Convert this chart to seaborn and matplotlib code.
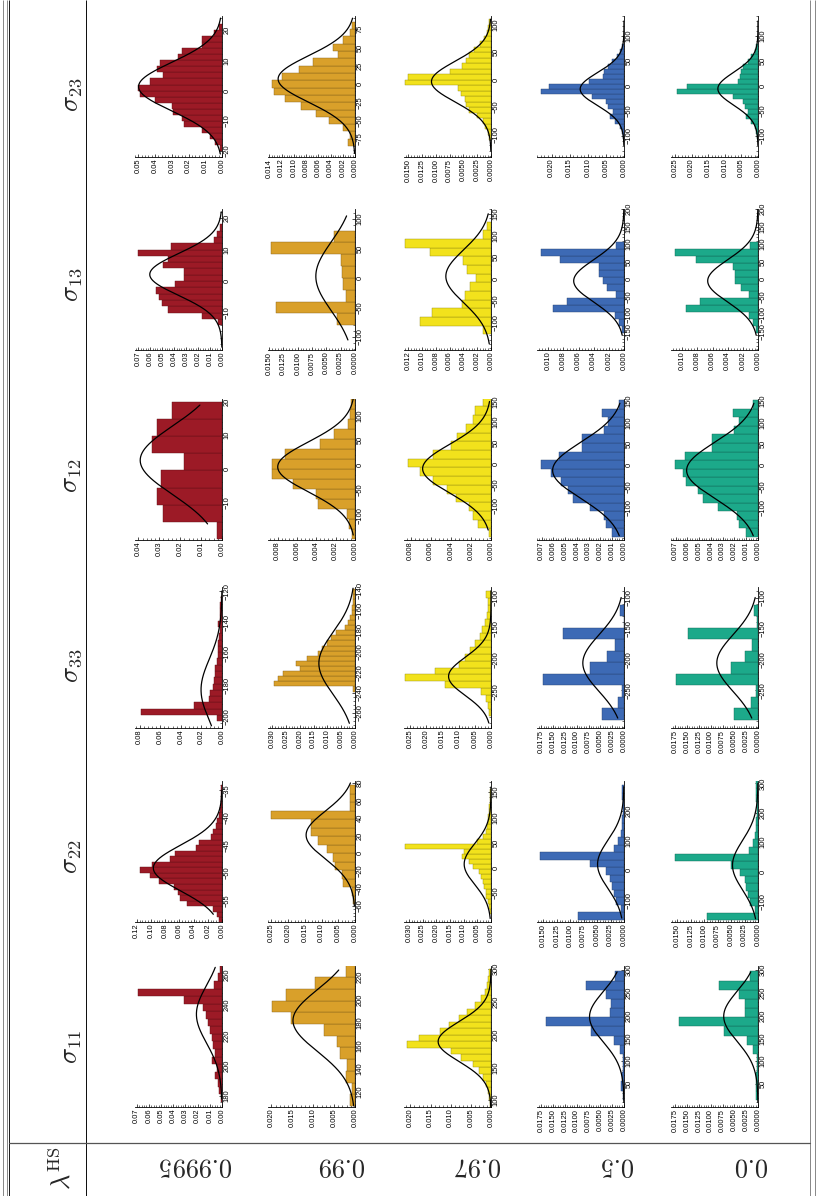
import numpy as np
import pandas as pd
import matplotlib
matplotlib.use("Agg")
import matplotlib.pyplot as plt
import matplotlib.colors as mcolors
from matplotlib.ticker import AutoMinorLocator, FuncFormatter
import seaborn as sns

sns.set_theme(style="white")
plt.rcParams['font.family'] = ['Liberation Sans', 'DejaVu Sans']
plt.rcParams['mathtext.fontset'] = 'cm'

# ---------------------------------------------------------------- labels
LAMBDAS = ["0.9995", "0.99", "0.97", "0.5", "0.0"]
SIGMAS = ["11", "22", "33", "12", "13", "23"]
COLORS = ["#9C1A26", "#D9A02A", "#F2E21C", "#3D6AB5", "#1CA98A"]

# ---------------------------------------------------------------- data
# each histogram: (first bin edge, bin width), bar densities, normal fit (mu, sd, lo, hi)
bins_0_11 = (176, 5)
dens_0_11 = [0.0011, 0.0022, 0.0033, 0.0055, 0.0045, 0.0082, 0.0060, 0.0074, 0.0082,
             0.0095, 0.0114, 0.0128, 0.0155, 0.031, 0.069, 0.0065, 0.0033, 0.0020]
fit_0_11 = (234, 19, 178, 265)

bins_0_22 = (-59, 1)
dens_0_22 = [0.004, 0.007, 0.012, 0.049, 0.059, 0.062, 0.068, 0.089, 0.101, 0.116,
             0.099, 0.073, 0.066, 0.036, 0.033, 0.016, 0.012, 0.009, 0.007, 0.004,
             0.003, 0.002, 0.001, 0.002, 0.001]
fit_0_22 = (-49.1, 4.13, -57.5, -35)

bins_0_33 = (-203, 4)
dens_0_33 = [0.005, 0.079, 0.027, 0.013, 0.012, 0.009, 0.008, 0.007, 0.007, 0.005,
             0.004, 0.004, 0.004, 0.003, 0.002, 0.004, 0.002, 0.002, 0.002, 0.001]
fit_0_33 = (-183, 19.6, -206, -120)

bins_0_12 = (-21, 5.125)
dens_0_12 = [0.0024, 0.028, 0.031, 0.029, 0.018, 0.0336, 0.031, 0.024]
fit_0_12 = (2.5, 10.2, -16.5, 19)

bins_0_13 = (-14, 2)
dens_0_13 = [0.003, 0.017, 0.045, 0.050, 0.053, 0.055, 0.039, 0.032, 0.032, 0.049,
             0.045, 0.070, 0.043, 0.007, 0.004, 0.002]
fit_0_13 = (2.1, 6.6, -21, 22)

bins_0_23 = (-20, 2)
dens_0_23 = [0.001, 0.004, 0.007, 0.012, 0.0225, 0.024, 0.029, 0.030, 0.040, 0.049,
             0.050, 0.043, 0.035, 0.039, 0.037, 0.026, 0.024, 0.012, 0.012, 0.005, 0.002]
fit_0_23 = (1.3, 8.0, -21, 24)

bins_1_11 = (107.6, 10.2)
dens_1_11 = [0.0012, 0.0008, 0.0021, 0.0018, 0.0035, 0.0044, 0.0073, 0.0154, 0.0198,
             0.0165, 0.0096, 0.0021]
fit_1_11 = (182, 26.9, 108, 226)

bins_1_22 = (-58.5, 9.7)
dens_1_22 = [0.0005, 0.0010, 0.0036, 0.0039, 0.0060, 0.0066, 0.0083, 0.0112, 0.0132,
             0.0132, 0.0250, 0.0016, 0.0016, 0.0016]
fit_1_22 = (20.6, 27.3, -60, 80)

bins_1_33 = (-239, 5)
dens_1_33 = [0.0006, 0.0296, 0.028, 0.026, 0.020, 0.0215, 0.0175, 0.0135, 0.012, 0.010,
             0.0088, 0.007, 0.0037, 0.0025, 0.0019, 0.0012, 0.0012, 0.0009, 0.0009, 0.0009]
fit_1_33 = (-211.4, 30.4, -270, -138)

bins_1_12 = (-147, 20)
dens_1_12 = [0.0003, 0.0006, 0.0008, 0.0038, 0.0040, 0.0064, 0.0086, 0.0086, 0.0072,
             0.0036, 0.0022, 0.0007, 0.0005, 0.0004]
fit_1_12 = (-3.3, 49.9, -140, 133)

bins_1_13 = (-80, 20)
dens_1_13 = [0.0032, 0.0138, 0.0016, 0.0021, 0.0023, 0.0025, 0.0147, 0.0036]
fit_1_13 = (2.8, 58.3, -105, 105)

bins_1_23 = (-85, 10)
dens_1_23 = [0.0012, 0.0008, 0.0020, 0.0042, 0.0064, 0.0089, 0.0114, 0.0133, 0.0136,
             0.0119, 0.0091, 0.0069, 0.0028, 0.0036, 0.0019, 0.0009, 0.0005]
fit_1_23 = (6.8, 31.7, -95, 90)

bins_2_11 = (90, 10)
dens_2_11 = [0.0003, 0.0005, 0.0008, 0.0012, 0.0020, 0.0030, 0.0045, 0.0075, 0.0100,
             0.0209, 0.0179, 0.0127, 0.0105, 0.0080, 0.0060, 0.0040, 0.0025, 0.0015,
             0.0010, 0.0008, 0.0005]
fit_2_11 = (189.5, 30.4, 90, 300)

bins_2_22 = (-93, 10)
dens_2_22 = [0.0003, 0.0008, 0.0012, 0.0018, 0.0020, 0.0025, 0.0030, 0.0035, 0.0045,
             0.0065, 0.0080, 0.0106, 0.0100, 0.0313, 0.0050, 0.0030, 0.0020, 0.0015,
             0.0012, 0.0010, 0.0008, 0.0006, 0.0005, 0.0003, 0.0002]
fit_2_22 = (7, 40.7, -100, 160)

bins_2_33 = (-289, 11)
dens_2_33 = [0.0005, 0.0010, 0.0015, 0.0030, 0.0142, 0.0266, 0.0174, 0.0099, 0.0080,
             0.0065, 0.0050, 0.0035, 0.0028, 0.0020, 0.0012, 0.0010, 0.0008, 0.0015]
fit_2_33 = (-226, 30.4, -300, -90)

bins_2_12 = (-177, 21)
dens_2_12 = [0.0002, 0.0013, 0.0018, 0.0022, 0.0035, 0.0044, 0.0058, 0.0071, 0.0083,
             0.0058, 0.0040, 0.0034, 0.0025, 0.0018, 0.0016, 0.0008]
fit_2_12 = (-12, 58.6, -160, 150)

bins_2_13 = (-128, 20)
dens_2_13 = [0.0012, 0.0103, 0.0085, 0.0042, 0.0037, 0.0030, 0.0022, 0.0035, 0.0040,
             0.0088, 0.0125, 0.0012, 0.0006]
fit_2_13 = (6, 61, -150, 150)

bins_2_23 = (-110, 10)
dens_2_23 = [0.0003, 0.0005, 0.0010, 0.0015, 0.0025, 0.0040, 0.0045, 0.0048, 0.0055,
             0.0060, 0.0157, 0.0150, 0.0075, 0.0052, 0.0045, 0.0040, 0.0030, 0.0020,
             0.0012, 0.0008, 0.0005, 0.0003]
fit_2_23 = (-3.6, 36.9, -130, 110)

bins_3_11 = (16, 20)
dens_3_11 = [0.0003, 0.0006, 0.0004, 0.0002, 0.0003, 0.0009, 0.0022, 0.0070, 0.0166,
             0.0030, 0.0028, 0.0039, 0.0080, 0.0018]
fit_3_11 = (197, 54.7, 10, 295)

bins_3_22 = (-165, 25)
dens_3_22 = [0.0086, 0.0006, 0.0015, 0.0019, 0.0022, 0.0026, 0.0034, 0.0063, 0.0157,
             0.0018, 0.0011, 0.0005, 0.0004, 0.0003, 0.0002, 0.0002, 0.0004, 0.0003]
fit_3_22 = (20, 81, -160, 280)

bins_3_33 = (-297.6, 18.6)
dens_3_33 = [0.0046, 0.0013, 0.0004, 0.0172, 0.0071, 0.0035, 0.0020, 0.0128, 0.0001, 0.0008]
fit_3_33 = (-206, 45.8, -295, -100)

bins_3_12 = (-168, 20)
dens_3_12 = [0.0010, 0.0015, 0.0017, 0.0029, 0.0043, 0.0048, 0.0054, 0.0062, 0.0071,
             0.0055, 0.0036, 0.0036, 0.0017, 0.0014, 0.0019, 0.0004]
fit_3_12 = (-12, 65.7, -165, 145)

bins_3_13 = (-154, 20)
dens_3_13 = [0.0003, 0.0006, 0.0012, 0.0094, 0.0076, 0.0011, 0.0022, 0.0028, 0.0033,
             0.0033, 0.0085, 0.0110, 0.0010]
fit_3_13 = (-5, 60, -160, 200)

bins_3_23 = (-107, 10)
dens_3_23 = [0.0003, 0.0005, 0.0012, 0.0026, 0.0040, 0.0030, 0.0045, 0.0050, 0.0088,
             0.0229, 0.0206, 0.0097, 0.0057, 0.0055, 0.0045, 0.0033, 0.0020, 0.0012, 0.0006]
fit_3_23 = (-6.7, 33, -120, 130)

bins_4_11 = (16, 20)
dens_4_11 = [0.0004, 0.0005, 0.0004, 0.0002, 0.0003, 0.0010, 0.0024, 0.0072, 0.0168,
             0.0028, 0.0027, 0.0040, 0.0082, 0.0016]
fit_4_11 = (198, 55, 10, 295)

bins_4_22 = (-165, 25)
dens_4_22 = [0.0095, 0.0005, 0.0014, 0.0018, 0.0022, 0.0025, 0.0033, 0.0051, 0.0155,
             0.0017, 0.0010, 0.0005, 0.0004, 0.0003, 0.0002, 0.0002, 0.0004, 0.0004, 0.0003]
fit_4_22 = (22, 84, -160, 300)

bins_4_33 = (-297.6, 18.6)
dens_4_33 = [0.0051, 0.0015, 0.0004, 0.0173, 0.0058, 0.0028, 0.0013, 0.0147, 0.0002, 0.0009]
fit_4_33 = (-206, 45.8, -295, -100)

bins_4_12 = (-168, 20)
dens_4_12 = [0.0010, 0.0016, 0.0018, 0.0034, 0.0047, 0.0051, 0.0061, 0.0064, 0.0071,
             0.0062, 0.0039, 0.0039, 0.0020, 0.0016, 0.0021, 0.0004]
fit_4_12 = (-12, 65.7, -165, 145)

bins_4_13 = (-154, 20)
dens_4_13 = [0.0003, 0.0006, 0.0012, 0.0095, 0.0077, 0.0012, 0.0023, 0.0030, 0.0030,
             0.0033, 0.0082, 0.0110, 0.0010]
fit_4_13 = (-5, 60, -160, 200)

bins_4_23 = (-107, 10)
dens_4_23 = [0.0003, 0.0005, 0.0010, 0.0020, 0.0035, 0.0030, 0.0040, 0.0045, 0.0075,
             0.0245, 0.0215, 0.0060, 0.0055, 0.0050, 0.0045, 0.0030, 0.0020, 0.0010, 0.0005]
fit_4_23 = (-6, 33, -120, 130)

# ---------------------------------------------------------------- axes setup
# value range, value ticks, density max, density tick step, decimals
AXES = {
    (0, "11"): ((172.7, 265.9), [180, 200, 220, 240, 260], 0.0714, 0.01, 2),
    (0, "22"): ((-58.9, -33.3), [-55, -50, -45, -40, -35], 0.1224, 0.02, 2),
    (0, "33"): ((-207.4, -117.4), [-200, -180, -160, -140, -120], 0.0845, 0.02, 2),
    (0, "12"): ((-21.3, 20.8), [-10, 0, 10, 20], 0.0416, 0.01, 2),
    (0, "13"): ((-21.9, 22.9), [-10, 0, 10, 20], 0.0728, 0.01, 2),
    (0, "23"): ((-22, 24.7), [-20, -10, 0, 10, 20], 0.052, 0.01, 2),
    (1, "11"): ((106.7, 229.5), [120, 140, 160, 180, 200, 220], 0.0208, 0.005, 3),
    (1, "22"): ((-78.5, 82.2), [-60, -40, -20, 0, 20, 40, 60, 80], 0.026, 0.005, 3),
    (1, "33"): ((-274.6, -136.8), [-260, -240, -220, -200, -180, -160, -140], 0.0316, 0.005, 3),
    (1, "12"): ((-150, 133), [-100, -50, 0, 50, 100], 0.009, 0.002, 3),
    (1, "13"): ((-122, 116.7), [-100, -50, 0, 50, 100], 0.0152, 0.0025, 4),
    (1, "23"): ((-100, 93), [-75, -50, -25, 0, 25, 50, 75], 0.01424, 0.002, 3),
    (2, "11"): ((89.5, 305), [100, 150, 200, 250, 300], 0.0216, 0.005, 3),
    (2, "22"): ((-108, 172), [-50, 0, 50, 100, 150], 0.0318, 0.005, 3),
    (2, "33"): ((-308, -84), [-250, -200, -150, -100], 0.0269, 0.005, 3),
    (2, "12"): ((-184, 156), [-100, -50, 0, 50, 100, 150], 0.00866, 0.002, 3),
    (2, "13"): ((-164, 161), [-100, -50, 0, 50, 100, 150], 0.0126, 0.002, 3),
    (2, "23"): ((-141, 116), [-100, -50, 0, 50, 100], 0.0158, 0.0025, 4),
    (3, "11"): ((0, 308), [50, 100, 150, 200, 250, 300], 0.0184, 0.0025, 4),
    (3, "22"): ((-173, 299), [-100, 0, 100, 200], 0.0162, 0.0025, 4),
    (3, "33"): ((-311, -83), [-250, -200, -150, -100], 0.0184, 0.0025, 4),
    (3, "12"): ((-175, 155), [-100, -50, 0, 50, 100, 150], 0.0074, 0.001, 3),
    (3, "13"): ((-202, 198), [-150, -100, -50, 0, 50, 100, 150, 200], 0.0115, 0.002, 3),
    (3, "23"): ((-143, 140), [-100, -50, 0, 50, 100], 0.024, 0.005, 3),
    (4, "11"): ((0, 308), [50, 100, 150, 200, 250, 300], 0.0184, 0.0025, 4),
    (4, "22"): ((-171, 308), [-100, 0, 100, 200, 300], 0.0162, 0.0025, 4),
    (4, "33"): ((-311, -83), [-250, -200, -150, -100], 0.0184, 0.0025, 4),
    (4, "12"): ((-175, 155), [-100, -50, 0, 50, 100, 150], 0.0074, 0.001, 3),
    (4, "13"): ((-202, 198), [-150, -100, -50, 0, 50, 100, 150, 200], 0.0115, 0.002, 3),
    (4, "23"): ((-143, 140), [-100, -50, 0, 50, 100], 0.0262, 0.005, 3),
}

# ---------------------------------------------------------------- layout (pixels)
FIG_W, FIG_H = 816, 1196
SPINE_X = [222, 355, 491, 624, 758]
BOTTOM_Y = {"11": 1107, "22": 922, "33": 728, "12": 540, "13": 350, "23": 157}
HEAD_Y = {"11": 1047, "22": 857, "33": 666, "12": 476, "13": 285, "23": 95}
AX_W, AX_H = 87, 141

fig = plt.figure(figsize=(FIG_W / 100, FIG_H / 100), dpi=100)
fig.patch.set_facecolor("white")


def box(x0, y0, w, h):
    return [x0 / FIG_W, 1 - (y0 + h) / FIG_H, w / FIG_W, h / FIG_H]


def darker(c, f=0.6):
    r, g, b = mcolors.to_rgb(c)
    return (r * f, g * f, b * f)


def minus(v, _pos=None):
    return f"{int(round(v))}".replace("-", "\u2212")


g = globals()
for li in range(len(LAMBDAS)):
    for s in SIGMAS:
        (start, width) = g[f"bins_{li}_{s}"]
        dens = np.asarray(g[f"dens_{li}_{s}"], dtype=float)
        mu, sd, lo, hi = g[f"fit_{li}_{s}"]
        (vmin, vmax), vticks, dmax, dstep, dec = AXES[(li, s)]

        edges = start + width * np.arange(len(dens) + 1)
        df = pd.DataFrame({"value": 0.5 * (edges[:-1] + edges[1:]), "density": dens})

        ax = fig.add_axes(box(SPINE_X[li] - AX_W, BOTTOM_Y[s] - AX_H, AX_W, AX_H))
        ax.patch.set_alpha(0)
        sns.histplot(data=df, y="value", weights="density", bins=list(edges), ax=ax,
                     stat="count", color=COLORS[li], alpha=1.0,
                     edgecolor=darker(COLORS[li]), linewidth=0.3)

        vv = np.linspace(lo, hi, 300)
        pdf = np.exp(-0.5 * ((vv - mu) / sd) ** 2) / (sd * np.sqrt(2 * np.pi))
        ax.plot(pdf, vv, color="black", lw=0.9, zorder=5)

        ax.set_xlim(dmax, 0)
        ax.set_ylim(vmin, vmax)
        ax.set_xlabel("")
        ax.set_ylabel("")
        ax.grid(False)
        for side in ("left", "top"):
            ax.spines[side].set_visible(False)
        for side in ("right", "bottom"):
            ax.spines[side].set_visible(True)
            ax.spines[side].set_linewidth(0.6)
            ax.spines[side].set_color("black")

        ax.yaxis.tick_right()
        ax.set_yticks(vticks)
        ax.yaxis.set_major_formatter(FuncFormatter(minus))
        ax.yaxis.set_minor_locator(AutoMinorLocator(5))
        ax.set_xticks(np.arange(0, dmax + 1e-12, dstep))
        ax.xaxis.set_major_formatter(FuncFormatter(lambda v, p, d=dec: f"{abs(v):.{d}f}"))
        ax.xaxis.set_minor_locator(AutoMinorLocator(5))
        ax.tick_params(which="major", direction="in", length=2.4, width=0.5,
                       labelsize=5.4, pad=1.2, colors="black")
        ax.tick_params(which="minor", direction="in", length=1.2, width=0.4, colors="black")
        ax.tick_params(axis="x", which="both", bottom=True, top=False)
        ax.tick_params(axis="y", which="both", right=True, left=False)
        for lab in ax.get_xticklabels():
            lab.set_rotation(90)
            lab.set_ha("center")
            lab.set_va("top")
        for lab in ax.get_yticklabels():
            lab.set_rotation(90)
            lab.set_ha("left")
            lab.set_va("center")

# ---------------------------------------------------------------- table frame and headings
frame = fig.add_axes([0, 0, 1, 1], zorder=-1)
frame.set_xlim(0, FIG_W)
frame.set_ylim(FIG_H, 0)
frame.axis("off")
for x, c in [(2.5, "#8a8a8a"), (6.8, "#8a8a8a"), (8.8, "#222222"),
             (809.5, "#8a8a8a"), (814.5, "#8a8a8a"), (86, "#111111")]:
    frame.plot([x, x], [0, FIG_H], color=c, lw=0.72, solid_capstyle="butt")
frame.plot([8.8, 809.5], [1143, 1143], color="#555555", lw=0.9)

for s in SIGMAS:
    frame.text(72.5, HEAD_Y[s], rf"$\sigma_{{{s}}}$", rotation=90, fontsize=19,
               ha="center", va="center")
frame.text(62, 1168, r"$\lambda^{\mathrm{HS}}$", rotation=90, fontsize=19,
           ha="center", va="center")
for li, lab in enumerate(LAMBDAS):
    frame.text(SPINE_X[li] + 11, 1166, rf"${lab}$", rotation=180, fontsize=19,
               ha="right", va="center")

fig.savefig("out.png", dpi=100, facecolor="white")
